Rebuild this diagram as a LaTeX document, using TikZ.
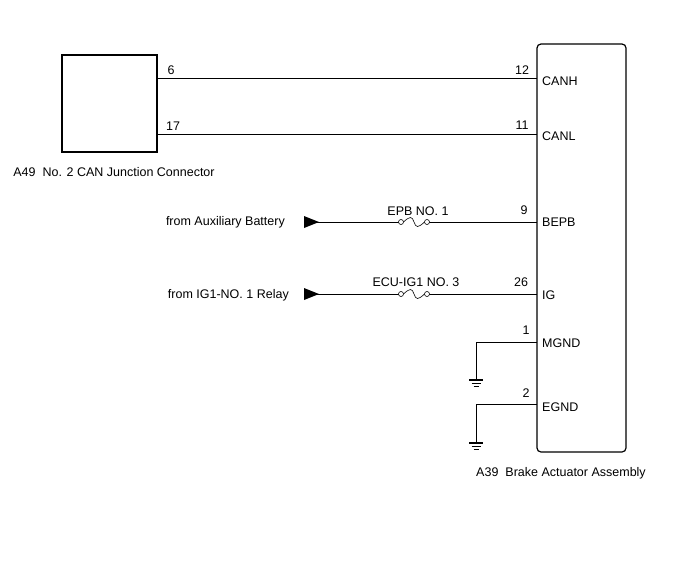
\documentclass[tikz,border=0pt]{standalone}
\usepackage{fontspec}
\setmainfont{Liberation Sans}
\usetikzlibrary{arrows.meta}
\usetikzlibrary{positioning}

\tikzset{
  wire/.style={line width=0.6pt},
  pin/.style={font=\fontsize{12.5}{14}\selectfont, inner sep=1pt},
  txt/.style={font=\fontsize{12.5}{14}\selectfont, inner sep=1pt},
  gnd/.pic={
    \draw[line width=1.2pt] (-7,0) -- (7,0);
    \draw[line width=0.6pt] (-4.5,3) -- (4.5,3);
    \draw[line width=0.6pt] (-2.5,6) -- (2.5,6);
  },
  fuse/.pic={
    \draw[wire, fill=white] (-13,0) circle (2.5);
    \draw[wire, fill=white] (13,0) circle (2.5);
    \draw[wire] (-10.5,0) .. controls (-4,-6) and (-2,-6) .. (0,0)
                .. controls (2,6) and (4,6) .. (10.5,0);
  }
}

\begin{document}
\begin{tikzpicture}[x=1pt, y=-1pt]
  \useasboundingbox (0,0) rectangle (688,560);

  % connectors and actuator
  \draw[line width=1.2pt] (62,55) rectangle (157,152);
  \draw[line width=1.2pt, rounded corners=4pt] (537,44) rectangle (626,452);
  \node[txt] (jc) at (114,172) {A49\ \ No. 2 CAN Junction Connector};
  \node[txt] (ba) at (561,473) {A39\ \ Brake Actuator Assembly};

  % CAN lines
  \coordinate (jch) at (157,78);  \coordinate (ach) at (537,78);
  \coordinate (jcl) at (157,134); \coordinate (acl) at (537,134);
  \draw[wire] (jch) -- (ach);
  \draw[wire] (jcl) -- (acl);
  \node[pin] at (171,70) {6};
  \node[pin] at (173,126) {17};
  \node[pin] at (522,70) {12};
  \node[pin] at (522,125) {11};
  \node[pin, anchor=west] at (541,81) {CANH};
  \node[pin, anchor=west] at (541,136) {CANL};

  % power inputs
  \node[txt, anchor=east] (aux) at (286,222) {from Auxiliary Battery};
  \node[txt, anchor=east] (rly) at (290,295) {from IG1-NO. 1 Relay};
  \coordinate (bepb) at (537,222);
  \coordinate (ig) at (537,294);
  \draw[wire] (304,222) -- (400,222);
  \draw[wire] (428,222) -- (bepb);
  \draw[wire] (304,294) -- (400,294);
  \draw[wire] (428,294) -- (ig);
  \fill (304,216) -- (319,222) -- (304,228) -- cycle;
  \fill (304,288) -- (319,294) -- (304,300) -- cycle;
  \pic at (414,222) {fuse};
  \pic at (414,294) {fuse};
  \node[pin] at (418,211) {EPB NO. 1};
  \node[pin] at (416,282) {ECU-IG1 NO. 3};
  \node[pin] at (524,210) {9};
  \node[pin] at (521,282) {26};
  \node[pin, anchor=west] at (541,222) {BEPB};
  \node[pin, anchor=west] at (541,295) {IG};

  % grounds
  \coordinate (mg) at (537,342);
  \coordinate (eg) at (537,404);
  \draw[wire] (mg) -- (476,342) -- (476,380);
  \draw[wire] (eg) -- (476,404) -- (476,443);
  \pic at (476,380) {gnd};
  \pic at (476,443) {gnd};
  \node[pin] at (526,330) {1};
  \node[pin] at (526,393) {2};
  \node[pin, anchor=west] at (541,343) {MGND};
  \node[pin, anchor=west] at (541,407) {EGND};
\end{tikzpicture}
\end{document}
